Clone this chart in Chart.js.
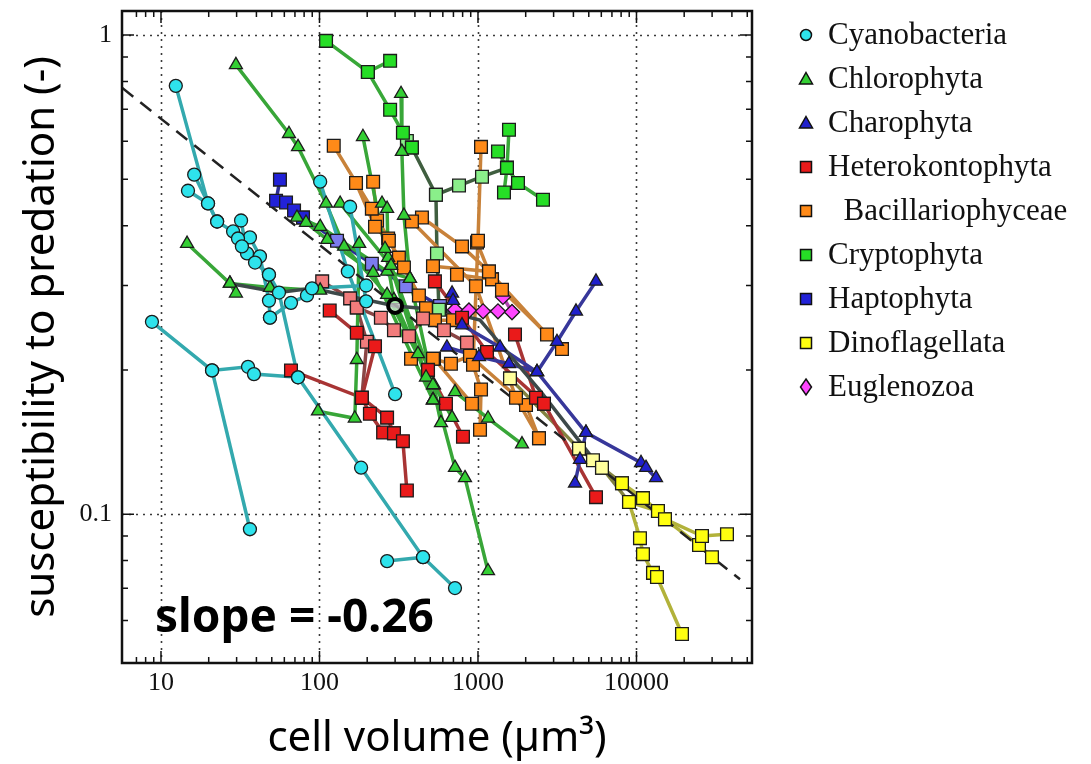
<!DOCTYPE html>
<html>
<head>
<meta charset="utf-8">
<script src="https://cdn.jsdelivr.net/npm/chart.js@4.4.1/dist/chart.umd.min.js"></script>
<style>
  html, body { margin: 0; padding: 0; background: #fff; }
  canvas { display: block; }
</style>
</head>
<body>
<canvas id="grazingChart" width="1091" height="764"></canvas>
<script>
// susceptibility to predation vs cell volume, one polyline per culture series
const groupNames = ['Cyanobacteria', 'Chlorophyta', 'Charophyta', 'Heterokontophyta',
  '  Bacillariophyceae', 'Cryptophyta', 'Haptophyta', 'Dinoflagellata', 'Euglenozoa'];

const cyanobacteria = [
  [[12.4, 0.783], [19.8, 0.445], [22.6, 0.408], [28.5, 0.389], [30.6, 0.376], [32.4, 0.362], [39.2, 0.335], [48.0, 0.316], [55.5, 0.290], [73.2, 0.193], [183, 0.125], [450, 0.0813], [716, 0.0701]],
  [[8.77, 0.252], [21.0, 0.1995], [35.4, 0.203], [38.6, 0.196], [73.2, 0.193]],
  [[21.0, 0.1995], [36.4, 0.093]],
  [[16.2, 0.511], [22.6, 0.408]],
  [[14.8, 0.473], [19.8, 0.445]],
  [[32.0, 0.410], [34.9, 0.350], [48.0, 0.316]],
  [[36.4, 0.378], [42.1, 0.345], [48.0, 0.279], [48.7, 0.257]],
  [[48.7, 0.257], [66.1, 0.276], [83.4, 0.286], [89.7, 0.296], [197, 0.300]],
  [[101, 0.494], [151, 0.321], [300, 0.178]],
  [[156, 0.438], [197, 0.278]],
  [[267, 0.0798], [450, 0.0813]]
];

const chlorophyta = [
  [[29.7, 0.866], [64.2, 0.622], [73.2, 0.584], [110, 0.445], [143, 0.362], [267, 0.287], [520, 0.186], [716, 0.125], [828, 0.119], [1157, 0.0761]],
  [[14.6, 0.367], [27.2, 0.303], [29.7, 0.289]],
  [[27.2, 0.303], [48.7, 0.297], [101, 0.293]],
  [[188, 0.613], [259, 0.358], [295, 0.280], [418, 0.216], [470, 0.193], [520, 0.173]],
  [[97.8, 0.164], [167, 0.1585], [172, 0.210], [178, 0.367]],
  [[327, 0.754], [331, 0.571], [341, 0.420], [372, 0.310], [584, 0.155]],
  [[82.2, 0.406], [112, 0.374], [218, 0.319], [520, 0.173]],
  [[135, 0.445], [283, 0.330], [528, 0.186], [686, 0.159]],
  [[716, 0.180], [1157, 0.1585], [1895, 0.140]],
  [[72.1, 0.416], [101, 0.398], [267, 0.321], [372, 0.310]],
  [[248, 0.445], [267, 0.434], [271, 0.343], [520, 0.173]]
];

const charophyta = [
  [[686, 0.289], [696, 0.279], [793, 0.248], [1377, 0.223], [2357, 0.198], [3151, 0.229], [4153, 0.265], [5553, 0.306]],
  [[2357, 0.198], [4801, 0.148], [10680, 0.128], [11480, 0.125], [13280, 0.119]],
  [[637, 0.223], [1015, 0.213], [1569, 0.206], [2357, 0.198]],
  [[4801, 0.148], [4401, 0.130], [4093, 0.116]]
];

const heterokontophyta = [
  [[116, 0.266], [172, 0.239], [224, 0.224], [185, 0.175], [208, 0.162], [252, 0.148], [295, 0.1475], [336, 0.142], [356, 0.112]],
  [[66.1, 0.1995], [185, 0.175], [267, 0.159], [295, 0.1475]],
  [[535, 0.306], [793, 0.257], [1140, 0.218], [2609, 0.170], [5553, 0.1085]],
  [[1712, 0.237], [2322, 0.175], [2609, 0.170]],
  [[484, 0.200], [628, 0.170], [804, 0.145]]
];

const heterokontophytaPale = [
  [[104, 0.306], [156, 0.282], [172, 0.270], [244, 0.257], [295, 0.242], [367, 0.235], [450, 0.256], [610, 0.242], [852, 0.228]],
  [[172, 0.270], [199, 0.229], [185, 0.175]]
];

const bacillariophyceae = [
  [[1045, 0.584], [1000, 0.372], [930, 0.205], [1045, 0.182], [1030, 0.150]],
  [[520, 0.329], [1173, 0.321], [2725, 0.237]],
  [[737, 0.316], [1226, 0.309], [1417, 0.294], [3388, 0.221]],
  [[123, 0.587], [214, 0.434], [341, 0.327], [470, 0.269], [535, 0.254], [696, 0.254]],
  [[170, 0.491], [224, 0.398], [274, 0.372], [317, 0.343], [424, 0.286]],
  [[218, 0.494], [231, 0.410], [271, 0.376]],
  [[383, 0.408], [971, 0.299], [1737, 0.175], [2426, 0.144]],
  [[443, 0.416], [793, 0.362], [1173, 0.321]],
  [[986, 0.369], [1226, 0.309]],
  [[378, 0.211], [520, 0.211], [675, 0.206], [890, 0.214], [2009, 0.169], [2426, 0.144]],
  [[528, 0.211], [916, 0.170]]
];

const cryptophyta = [
  [[110, 0.972], [202, 0.837], [279, 0.883]],
  [[202, 0.837], [279, 0.698], [336, 0.625], [383, 0.582]],
  [[1337, 0.571], [1524, 0.528], [1788, 0.491], [2571, 0.453]],
  [[1569, 0.634], [1524, 0.528], [1459, 0.469]]
];

const cryptophytaPale = [
  [[356, 0.601], [383, 0.582], [543, 0.464], [551, 0.350], [567, 0.267]],
  [[543, 0.464], [759, 0.485], [1060, 0.506], [1524, 0.528]]
];

const haptophyta = [
  [[56.3, 0.499], [53.2, 0.451], [61.5, 0.447], [69.1, 0.430], [78.7, 0.416]]
];

const haptophytaPale = [
  [[78.7, 0.416], [129, 0.372], [214, 0.333], [351, 0.299], [576, 0.272]]
];

const dinoflagellata = [
  [[8101, 0.116], [10990, 0.108], [13660, 0.1015], [15130, 0.0976], [25900, 0.090], [37240, 0.0908]],
  [[8970, 0.106], [10520, 0.0891], [10990, 0.0825], [12710, 0.0754], [13470, 0.0739], [19370, 0.0562]],
  [[15130, 0.0976], [24800, 0.0862], [29950, 0.0813]],
  [[8970, 0.106], [13660, 0.1015]]
];

const dinoflagellataPale = [
  [[1592, 0.192], [4338, 0.137], [5316, 0.1296], [6058, 0.125], [8101, 0.116]],
  [[6058, 0.125], [8970, 0.106]]
];

const euglenozoa = [
  [[716, 0.267], [877, 0.266], [1076, 0.265], [1337, 0.265], [1639, 0.264]],
  [[1438, 0.284], [1639, 0.264]]
];

// pooled trajectory and overall mean
const meanPath = [[27.2, 0.303], [55.5, 0.290], [89.7, 0.296], [300, 0.272], [567, 0.267], [1030, 0.254], [2462, 0.181], [5886, 0.125]];
const meanPoint = [[300, 0.272]];
const regressionLine = [[5.7, 0.775], [45000, 0.0731]];
const slopeLabel = 'slope = -0.26';

const xRange = [5.675, 53560];
const yRange = [0.0489, 1.122];
const xTickValues = [10, 100, 1000, 10000];
const xTickLabels = ['10', '100', '1000', '10000'];
const yTickValues = [0.1, 1];
const yTickLabels = ['0.1', '1'];

const toXY = s => s.map(p => ({x: p[0], y: p[1]}));

const pointSets = [];
const lineSets = [];
function addGroup(list, marker, line, style, radius) {
  list.forEach(s => {
    lineSets.push({
      data: toXY(s), showLine: true, borderColor: line, borderWidth: 3.5,
      pointRadius: 0, pointHoverRadius: 0
    });
    pointSets.push({
      data: toXY(s), showLine: false, pointStyle: style, pointRadius: radius,
      pointBackgroundColor: marker, pointBorderColor: '#1c1c1c', pointBorderWidth: 1.3
    });
  });
}

addGroup(cyanobacteria, '#2ee3ec', '#33a9ae', 'circle', 6.5);
addGroup(chlorophyta, '#34cf34', '#38a638', 'triangle', 7.5);
addGroup(charophyta, '#2020cc', '#37379a', 'triangle', 7.5);
addGroup(heterokontophyta, '#ea1a1a', '#a83434', 'rect', 9);
addGroup(heterokontophytaPale, '#f27c7c', '#8a4545', 'rect', 9);
addGroup(bacillariophyceae, '#ff8a18', '#c8823a', 'rect', 9);
addGroup(cryptophyta, '#26de26', '#38a838', 'rect', 9);
addGroup(cryptophytaPale, '#8aef8a', '#3f5e3f', 'rect', 9);
addGroup(haptophyta, '#2222d8', '#2c2c96', 'rect', 9);
addGroup(haptophytaPale, '#7c7cee', '#2c2c96', 'rect', 9);
addGroup(dinoflagellata, '#ffff10', '#b2b23a', 'rect', 9);
addGroup(dinoflagellataPale, '#ffff9c', '#838340', 'rect', 9);
addGroup(euglenozoa, '#ff45ff', '#b042b0', 'rectRot', 7.5);

const datasets = [
  {
    data: toXY(meanPoint), showLine: false, pointStyle: 'circle', pointRadius: 7,
    pointBackgroundColor: 'rgba(255,255,255,0.6)', pointBorderColor: '#000', pointBorderWidth: 4
  },
  ...pointSets,
  {
    data: toXY(regressionLine), showLine: true, borderColor: '#222', borderWidth: 2.5,
    borderDash: [14, 9], pointRadius: 0
  },
  {
    data: toXY(meanPath), showLine: true, borderColor: '#3d4949', borderWidth: 3.5, pointRadius: 0
  },
  ...lineSets
];

function matchLabel(values, labels, v) {
  const i = values.findIndex(t => Math.abs(t - v) / t < 1e-6);
  return i >= 0 ? labels[i] : '';
}

function integerSignificand(v) {
  const e = Math.floor(Math.log10(v) + 1e-9);
  const m = v / Math.pow(10, e);
  return Math.abs(m - Math.round(m)) < 1e-6 ? Math.round(m) : 0;
}

const framePlugin = {
  id: 'frame',
  beforeDatasetsDraw(chart) {
    const {ctx, chartArea: a, scales: {x, y}} = chart;
    ctx.save();
    ctx.strokeStyle = '#3a3a3a';
    ctx.lineWidth = 1.6;
    ctx.setLineDash([2, 5]);
    xTickValues.forEach(v => {
      const px = Math.round(x.getPixelForValue(v)) + 0.5;
      ctx.beginPath(); ctx.moveTo(px, a.top); ctx.lineTo(px, a.bottom); ctx.stroke();
    });
    yTickValues.forEach(v => {
      const py = Math.round(y.getPixelForValue(v)) + 0.5;
      ctx.beginPath(); ctx.moveTo(a.left, py); ctx.lineTo(a.right, py); ctx.stroke();
    });
    ctx.restore();
  },
  afterDatasetsDraw(chart) {
    const {ctx, chartArea: a, scales: {x, y}} = chart;
    ctx.save();
    ctx.strokeStyle = '#111';
    ctx.lineWidth = 1.5;
    x.ticks.forEach(t => {
      const m = integerSignificand(t.value);
      if (!m) return;
      const px = x.getPixelForValue(t.value);
      if (px < a.left + 2 || px > a.right - 2) return;
      const len = m === 1 ? 12 : 6;
      ctx.beginPath();
      ctx.moveTo(px, a.bottom); ctx.lineTo(px, a.bottom - len);
      ctx.moveTo(px, a.top); ctx.lineTo(px, a.top + len);
      ctx.stroke();
    });
    y.ticks.forEach(t => {
      const m = integerSignificand(t.value);
      if (!m) return;
      const py = y.getPixelForValue(t.value);
      if (py < a.top + 2 || py > a.bottom - 2) return;
      const len = m === 1 ? 12 : 6;
      ctx.beginPath();
      ctx.moveTo(a.left, py); ctx.lineTo(a.left + len, py);
      ctx.moveTo(a.right, py); ctx.lineTo(a.right - len, py);
      ctx.stroke();
    });
    ctx.lineWidth = 2.5;
    ctx.strokeRect(a.left, a.top, a.right - a.left, a.bottom - a.top);
    ctx.restore();
  }
};

const legendStyles = ['circle', 'triangle', 'triangle', 'rect', 'rect', 'rect', 'rect', 'rect', 'rectRot'];
const legendColors = ['#2ee3ec', '#34cf34', '#2020cc', '#ea1a1a', '#ff8a18', '#26de26', '#2222d8', '#ffff10', '#ff45ff'];

function drawMarker(ctx, style, x, y, color) {
  ctx.beginPath();
  if (style === 'circle') {
    ctx.arc(x, y, 5.5, 0, Math.PI * 2);
  } else if (style === 'triangle') {
    ctx.moveTo(x, y - 6.5); ctx.lineTo(x + 6.5, y + 5); ctx.lineTo(x - 6.5, y + 5); ctx.closePath();
  } else if (style === 'rect') {
    ctx.rect(x - 5.5, y - 5.5, 11, 11);
  } else {
    ctx.moveTo(x, y - 8); ctx.lineTo(x + 5.5, y); ctx.lineTo(x, y + 8); ctx.lineTo(x - 5.5, y); ctx.closePath();
  }
  ctx.fillStyle = color;
  ctx.fill();
  ctx.lineWidth = 1.5;
  ctx.strokeStyle = '#111';
  ctx.stroke();
}

const legendPlugin = {
  id: 'sideLegend',
  afterDraw(chart) {
    const ctx = chart.ctx;
    ctx.save();
    groupNames.forEach((name, i) => {
      const cy = 35 + i * 44;
      drawMarker(ctx, legendStyles[i], 806, cy, legendColors[i]);
      ctx.font = '31px "Liberation Serif"';
      ctx.textBaseline = 'middle';
      ctx.fillStyle = '#111';
      ctx.fillText(name, 828, cy + 1);
    });
    ctx.font = 'bold 46px "Noto Sans"';
    ctx.textBaseline = 'alphabetic';
    ctx.fillStyle = '#000';
    ctx.fillText(slopeLabel, 155, 632);
    ctx.restore();
  }
};

Chart.defaults.font.family = '"Liberation Serif"';

new Chart(document.getElementById('grazingChart'), {
  type: 'scatter',
  data: { datasets: datasets },
  options: {
    responsive: false,
    animation: false,
    devicePixelRatio: 1,
    layout: { padding: { top: 10, right: 339, left: 0, bottom: 0 } },
    plugins: { legend: { display: false }, tooltip: { enabled: false } },
    scales: {
      x: {
        type: 'logarithmic',
        min: xRange[0],
        max: xRange[1],
        grid: { display: false, drawTicks: false },
        border: { display: false },
        ticks: {
          autoSkip: false, maxRotation: 0, padding: 5, color: '#111',
          font: { size: 26, family: '"Liberation Serif"' },
          callback: v => matchLabel(xTickValues, xTickLabels, v)
        },
        title: {
          display: true, text: 'cell volume (µm³)', color: '#000',
          font: { size: 42, family: '"Noto Sans"' }, padding: { top: 0, bottom: 0 }
        },
        afterFit: s => { s.height = 101; s.paddingLeft = 0; s.paddingRight = 0; }
      },
      y: {
        type: 'logarithmic',
        min: yRange[0],
        max: yRange[1],
        grid: { display: false, drawTicks: false },
        border: { display: false },
        ticks: {
          autoSkip: false, padding: 10, color: '#111',
          font: { size: 26, family: '"Liberation Serif"' },
          callback: v => matchLabel(yTickValues, yTickLabels, v)
        },
        title: {
          display: true, text: 'susceptibility to predation (-)', color: '#000',
          font: { size: 42, family: '"Noto Sans"' }, padding: { top: 17, bottom: 0 }
        },
        afterFit: s => { s.width = 122; s.paddingTop = 0; s.paddingBottom = 0; }
      }
    }
  },
  plugins: [framePlugin, legendPlugin]
});
</script>
</body>
</html>
